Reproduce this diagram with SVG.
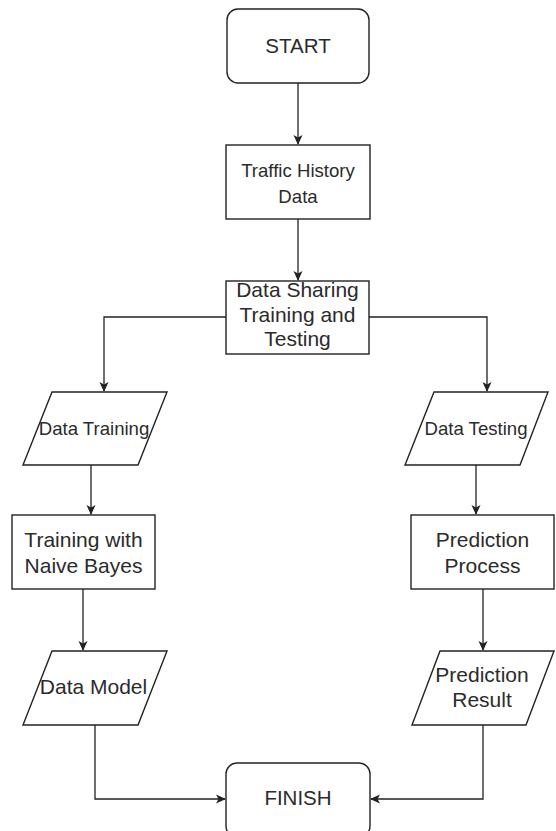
<svg xmlns="http://www.w3.org/2000/svg" width="556" height="831" viewBox="0 0 556 831">
<style>
.shape{fill:#fff;stroke:#222;stroke-width:1.4}
.conn{fill:none;stroke:#222;stroke-width:1.3}
text{font-family:"Liberation Sans",Arial,sans-serif;fill:#2b2b2b;text-anchor:middle}
.f18{font-size:18.6px}
.f20{font-size:20.5px}
.f21{font-size:21px}
</style>
<defs>
<marker id="arr" markerUnits="userSpaceOnUse" markerWidth="12" markerHeight="10" refX="9" refY="5" orient="auto">
<path d="M0,0.5 L10,5 L0,9.5 L2.5,5 z" fill="#222"/>
</marker>
</defs>
<rect width="556" height="831" fill="#fff"/>
<g id="connectors">
<path class="conn" d="M298,83 V144" marker-end="url(#arr)"/>
<path class="conn" d="M298,219 V280" marker-end="url(#arr)"/>
<path class="conn" d="M226,317 H104 V391" marker-end="url(#arr)"/>
<path class="conn" d="M369,317 H487 V391" marker-end="url(#arr)"/>
<path class="conn" d="M91,465 V514" marker-end="url(#arr)"/>
<path class="conn" d="M476,465 V514" marker-end="url(#arr)"/>
<path class="conn" d="M83,589 V650" marker-end="url(#arr)"/>
<path class="conn" d="M483,589 V650" marker-end="url(#arr)"/>
<path class="conn" d="M95,725 V799 H225" marker-end="url(#arr)"/>
<path class="conn" d="M483,725 V799 H371" marker-end="url(#arr)"/>
</g>
<g id="start">
<rect class="shape" x="227" y="9" width="142" height="74" rx="11"/>
<text class="f20" x="298" y="53">START</text>
</g>
<g id="traffic">
<rect class="shape" x="226" y="145" width="144" height="74"/>
<text class="f18" x="298" y="177">Traffic History</text>
<text class="f18" x="298" y="203">Data</text>
</g>
<g id="sharing">
<rect class="shape" x="226" y="281" width="143" height="73"/>
<text class="f21" x="297.5" y="297">Data Sharing</text>
<text class="f21" x="297.5" y="322">Training and</text>
<text class="f21" x="297.5" y="346">Testing</text>
</g>
<g id="data-training">
<polygon class="shape" points="52,392 167,392 138,465 23,465"/>
<text class="f18" x="94" y="435">Data Training</text>
</g>
<g id="data-testing">
<polygon class="shape" points="434,392 548,392 520,465 405,465"/>
<text class="f18" x="476" y="435">Data Testing</text>
</g>
<g id="naive-bayes">
<rect class="shape" x="12" y="515" width="143" height="74"/>
<text class="f21" x="83.5" y="547">Training with</text>
<text class="f21" x="83.5" y="573">Naive Bayes</text>
</g>
<g id="prediction-process">
<rect class="shape" x="411" y="515" width="143" height="74"/>
<text class="f21" x="482.5" y="547">Prediction</text>
<text class="f21" x="482.5" y="573">Process</text>
</g>
<g id="data-model">
<polygon class="shape" points="52,651 167,651 138,725 23,725"/>
<text class="f21" x="93.5" y="694">Data Model</text>
</g>
<g id="prediction-result">
<polygon class="shape" points="440,651 554,651 526,725 412,725"/>
<text class="f21" x="482" y="682">Prediction</text>
<text class="f21" x="482" y="707">Result</text>
</g>
<g id="finish">
<rect class="shape" x="226" y="763" width="144" height="74" rx="11"/>
<text class="f20" x="298" y="805">FINISH</text>
</g>
</svg>
